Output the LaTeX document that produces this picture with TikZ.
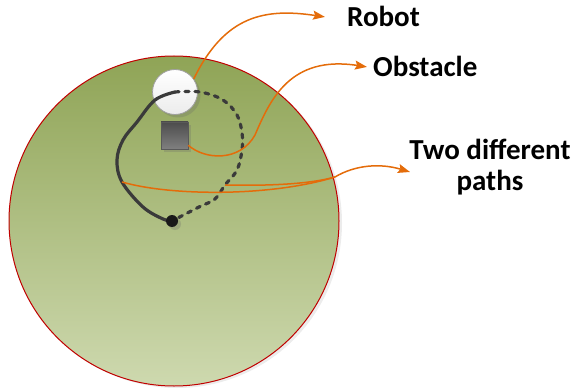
\documentclass[tikz,border=0pt]{standalone}
\usepackage{fontspec}
\setmainfont{Carlito}
\usepackage{tikz}
\usetikzlibrary{arrows.meta, positioning, shadows, calc}

\definecolor{fieldtop}{HTML}{8FA456}
\definecolor{fieldbottom}{HTML}{CED9AF}
\definecolor{fieldred}{HTML}{C00000}
\definecolor{routegray}{HTML}{3A3A3A}
\definecolor{pointerorange}{HTML}{E46C0A}

\begin{document}
\begin{tikzpicture}[x=1pt, y=-1pt,
    lbl/.style={font=\fontsize{29}{31}\selectfont\bfseries, inner sep=0pt},
    route/.style={draw=routegray, line width=3.2pt, line cap=round},
    pointer/.style={draw=pointerorange, line width=1.5pt},
    softshadow/.style={drop shadow={shadow xshift=3pt, shadow yshift=-3pt, opacity=.25, fill=black!60}}]
  \useasboundingbox (0,0) rectangle (575,390);

  % Field
  \node[circle, minimum size=330pt, inner sep=0pt, draw=fieldred, line width=1pt,
    top color=fieldtop, bottom color=fieldbottom,
    drop shadow={shadow xshift=3pt, shadow yshift=-2pt, opacity=.15, fill=black!50}] (field) at (174,221) {};

  % Robot and obstacle
  \node[circle, minimum size=45pt, inner sep=0pt, draw=gray!75, line width=.8pt,
    top color=white, bottom color=gray!15, softshadow] (robot) at (175,92) {};
  \node[rectangle, minimum size=27pt, inner sep=0pt, draw=black!65, line width=.6pt,
    top color=black!70, bottom color=black!50, softshadow] (obstacle) at (174.5,135.5) {};

  % Waypoints of the solid route
  \coordinate (s1) at (155,100);
  \coordinate (s2) at (137,122);
  \coordinate (s3) at (123,140);
  \coordinate (s4) at (117,160);
  \coordinate (s5) at (122,182);
  \coordinate (s6) at (143,207);
  \coordinate (s7) at (163,219);
  % Waypoints of the dashed route
  \coordinate (d1) at (200,92);
  \coordinate (d2) at (223,100);
  \coordinate (d3) at (237,115);
  \coordinate (d4) at (242,133);
  \coordinate (d5) at (242,150);
  \coordinate (d6) at (237,170);
  \coordinate (d7) at (225,185);
  \coordinate (d8) at (215,199);
  \coordinate (d9) at (199,207);
  \coordinate (goalpt) at (172,221);

  % Two routes from robot to goal
  \draw[route] plot[smooth, tension=.6] coordinates {(robot.center) (s1) (s2) (s3) (s4) (s5) (s6) (s7) (goalpt)};
  \draw[route, dash pattern=on 4pt off 6pt] plot[smooth, tension=.6] coordinates {(robot.center) (d1) (d2) (d3) (d4) (d5) (d6) (d7) (d8) (d9) (goalpt)};

  % Goal
  \node[circle, minimum size=12pt, inner sep=0pt, fill=black!90, softshadow] (goal) at (goalpt) {};

  % Labels
  \node[lbl, anchor=base west] (robotlbl) at (347,27) {Robot};
  \node[lbl, anchor=base west] (obstaclelbl) at (373,77) {Obstacle};
  \node[lbl, align=center, anchor=base] (pathslbl) at (490,190) {Two different\\paths};

  % Pointers
  \draw[pointer, -{Stealth[length=12pt, width=9pt, inset=2pt]}] (robot.35)
    .. controls (225,15) and (265,8) .. ([xshift=-22pt]robotlbl.west);
  \draw[pointer, -{Stealth[length=12pt, width=9pt, inset=2pt]}] ([yshift=4pt]obstacle.south east)
    .. controls (205,160) and (240,162) .. (255,135)
    .. controls (270,100) and (290,55) .. ([xshift=-6pt]obstaclelbl.west);
  \coordinate (merge) at (335,177);
  \coordinate (pathstip) at (410,172);
  \draw[pointer] (s5) .. controls (170,196) and (270,197) .. (merge);
  \draw[pointer] (d7) .. controls (270,186) and (310,184) .. (merge);
  \draw[pointer, -{Stealth[length=12pt, width=9pt, inset=2pt]}] (merge)
    .. controls (355,165) and (380,163) .. (pathstip);
\end{tikzpicture}
\end{document}
